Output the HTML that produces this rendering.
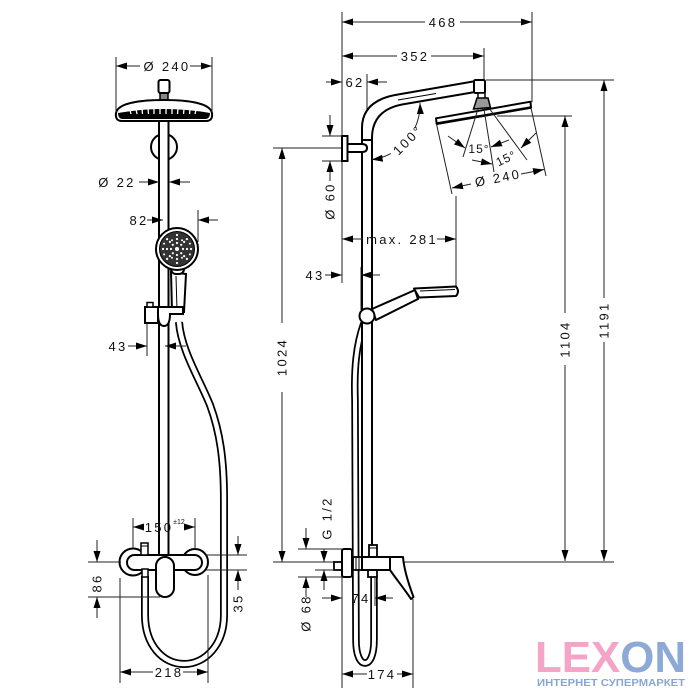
<!DOCTYPE html>
<html><head><meta charset="utf-8"><style>
html,body{margin:0;padding:0;background:#fff;}
svg{display:block;}
text{font-family:"Liberation Sans",sans-serif;}
</style></head><body>
<svg width="700" height="700" viewBox="0 0 700 700" xmlns="http://www.w3.org/2000/svg">
<defs>
<marker id="a" markerWidth="12" markerHeight="8" refX="11" refY="4" orient="auto" markerUnits="userSpaceOnUse"><path d="M0,0.5 L11,4 L0,7.5 Z" fill="#000"/></marker>
</defs>
<rect width="700" height="700" fill="#fff"/>

<!-- ================= LEFT VIEW ================= -->
<!-- hose -->
<g fill="none" stroke-linecap="butt">
<path d="M179,322 C181,350 200,380 210,405 C220,432 224,460 224,500 L224,615 C224,645 205,664 184,664 C163,664 145,645 145,615 L145,576" stroke="#000" stroke-width="8"/>
<path d="M179,322 C181,350 200,380 210,405 C220,432 224,460 224,500 L224,615 C224,645 205,664 184,664 C163,664 145,645 145,615 L145,576" stroke="#fff" stroke-width="4.5"/>
</g>
<!-- bracket circle -->
<circle cx="164" cy="147" r="13" fill="#fff" stroke="#000" stroke-width="2"/>
<!-- rod -->
<rect x="159" y="119" width="9.5" height="438" fill="#fff" stroke="#000" stroke-width="2"/>
<!-- head connector -->
<rect x="160" y="92" width="8" height="9" fill="#888" stroke="#000" stroke-width="1.5"/>
<rect x="158.5" y="80" width="11" height="13" rx="2" fill="#fff" stroke="#000" stroke-width="2"/>
<!-- head -->
<path d="M116,113 C118,103 140,100 164,100 C188,100 210,103 212,113 Q213,121 206,121 L122,121 Q115,121 116,113 Z" fill="#fff" stroke="#000" stroke-width="2"/>
<path d="M118,113 Q164,105 210,113 Q210,119 205,119 L123,119 Q118,119 118,113 Z" fill="#000"/>
<g stroke="#fff" stroke-width="1.3">
<line x1="130" y1="110" x2="131" y2="114"/><line x1="136" y1="109" x2="137" y2="114"/><line x1="142" y1="109" x2="142.5" y2="114"/><line x1="148" y1="108" x2="148.5" y2="114"/><line x1="154" y1="108" x2="154" y2="114"/><line x1="160" y1="108" x2="160" y2="114"/><line x1="166" y1="108" x2="166" y2="114"/><line x1="172" y1="108" x2="172" y2="114"/><line x1="178" y1="108" x2="177.5" y2="114"/><line x1="184" y1="109" x2="183.5" y2="114"/><line x1="190" y1="109" x2="189.5" y2="114"/><line x1="196" y1="110" x2="195" y2="114"/>
</g>
<!-- hand shower -->
<path d="M171,272 L172,312 L184,312 L186,274 Z" fill="#fff" stroke="#000" stroke-width="2"/>
<line x1="176" y1="276" x2="177" y2="310" stroke="#000" stroke-width="1"/>
<rect x="171" y="262" width="13" height="12" rx="5" fill="#fff" stroke="#000" stroke-width="2"/>
<circle cx="177" cy="249" r="21" fill="#fff" stroke="#000" stroke-width="2"/>
<circle cx="177" cy="249" r="17.5" fill="#333" stroke="#000" stroke-width="1"/>
<g fill="#fff">
<circle cx="177" cy="249" r="2"/>
<circle cx="183" cy="249" r="1.1"/><circle cx="171" cy="249" r="1.1"/><circle cx="177" cy="243" r="1.1"/><circle cx="177" cy="255" r="1.1"/><circle cx="181.2" cy="244.8" r="1.1"/><circle cx="172.8" cy="244.8" r="1.1"/><circle cx="181.2" cy="253.2" r="1.1"/><circle cx="172.8" cy="253.2" r="1.1"/>
<circle cx="187" cy="249" r="1.1"/><circle cx="167" cy="249" r="1.1"/><circle cx="177" cy="239" r="1.1"/><circle cx="177" cy="259" r="1.1"/><circle cx="184.1" cy="241.9" r="1.1"/><circle cx="169.9" cy="241.9" r="1.1"/><circle cx="184.1" cy="256.1" r="1.1"/><circle cx="169.9" cy="256.1" r="1.1"/><circle cx="182" cy="240.3" r="1"/><circle cx="172" cy="240.3" r="1"/><circle cx="182" cy="257.7" r="1"/><circle cx="172" cy="257.7" r="1"/>
<circle cx="191" cy="249" r="1.1"/><circle cx="163" cy="249" r="1.1"/><circle cx="177" cy="235" r="1.1"/><circle cx="177" cy="263" r="1.1"/><circle cx="186.9" cy="239.1" r="1.1"/><circle cx="167.1" cy="239.1" r="1.1"/><circle cx="186.9" cy="258.9" r="1.1"/><circle cx="167.1" cy="258.9" r="1.1"/><circle cx="189.9" cy="243.6" r="1"/><circle cx="164.1" cy="243.6" r="1"/><circle cx="189.9" cy="254.4" r="1"/><circle cx="164.1" cy="254.4" r="1"/>
</g>
<!-- holder -->
<rect x="145" y="307" width="13" height="16" fill="#fff" stroke="#000" stroke-width="2"/>
<rect x="147" y="302.5" width="6" height="4.5" fill="#fff" stroke="#000" stroke-width="1.5"/>
<path d="M158,307 L183,307 L183,314 L170,314 Q170,326 164,326 Q158,326 158,314 Z" fill="#fff" stroke="#000" stroke-width="2"/>

<!-- mixer left -->
<circle cx="133" cy="562" r="13.5" fill="#fff" stroke="#000" stroke-width="2"/>
<circle cx="195" cy="562" r="13" fill="#fff" stroke="#000" stroke-width="2"/>
<rect x="127" y="555" width="75" height="15" rx="7.5" fill="#fff" stroke="#000" stroke-width="2"/>
<rect x="142" y="569" width="6" height="8" fill="#fff" stroke="#000" stroke-width="1.5"/>
<rect x="141" y="543" width="7" height="12" fill="#fff" stroke="#000" stroke-width="1.5"/>
<line x1="141" y1="546" x2="148" y2="546" stroke="#000" stroke-width="1"/>
<rect x="156" y="557" width="18" height="40" rx="9" fill="#fff" stroke="#000" stroke-width="2"/>

<!-- left dims -->
<g stroke="#222" stroke-width="1" fill="none">
<line x1="116" y1="57" x2="116" y2="112"/>
<line x1="212" y1="57" x2="212" y2="112"/>
<line x1="140" y1="66" x2="116" y2="66" marker-end="url(#a)"/>
<line x1="190" y1="66" x2="212" y2="66" marker-end="url(#a)"/>
<line x1="139" y1="182" x2="159" y2="182" marker-end="url(#a)"/>
<line x1="190" y1="182" x2="169" y2="182" marker-end="url(#a)"/>
<line x1="147" y1="220" x2="163" y2="220" marker-end="url(#a)"/>
<line x1="218" y1="220" x2="198" y2="220" marker-end="url(#a)"/>
<line x1="198" y1="210" x2="198" y2="242"/>
<line x1="128" y1="346" x2="147" y2="346" marker-end="url(#a)"/>
<line x1="147" y1="323" x2="147" y2="356"/>
<line x1="186" y1="346" x2="165" y2="346" marker-end="url(#a)"/>
<line x1="133" y1="518" x2="133" y2="549"/>
<line x1="195" y1="518" x2="195" y2="549"/>
<line x1="144" y1="527" x2="133" y2="527" marker-end="url(#a)"/>
<line x1="185" y1="527" x2="195" y2="527" marker-end="url(#a)"/>
<line x1="97" y1="540" x2="97" y2="562" marker-end="url(#a)"/>
<line x1="97" y1="618" x2="97" y2="597" marker-end="url(#a)"/>
<line x1="88" y1="562" x2="121" y2="562"/>
<line x1="88" y1="597" x2="160" y2="597"/>
<line x1="238" y1="536" x2="238" y2="555" marker-end="url(#a)"/>
<line x1="238" y1="590" x2="238" y2="570" marker-end="url(#a)"/>
<line x1="206" y1="555" x2="247" y2="555"/>
<line x1="206" y1="570" x2="247" y2="570"/>
<line x1="120" y1="578" x2="120" y2="683"/>
<line x1="208" y1="575" x2="208" y2="683"/>
<line x1="153" y1="672" x2="120" y2="672" marker-end="url(#a)"/>
<line x1="183" y1="672" x2="208" y2="672" marker-end="url(#a)"/>
</g>
<g font-size="13" fill="#111" text-anchor="middle" style="letter-spacing:2.3px">
<text x="167" y="71">Ø 240</text>
<text x="117" y="187">Ø 22</text>
<text x="139" y="225">82</text>
<text x="118" y="351">43</text>
<text x="159" y="532">150</text>
<text x="169" y="677">218</text>
<text transform="translate(97,583) rotate(-90)" x="0" y="4.5">86</text>
<text transform="translate(238,603) rotate(-90)" x="0" y="4.5">35</text>
</g>
<text x="179" y="524" font-size="7" fill="#111" text-anchor="middle">±12</text>

<!-- ================= RIGHT VIEW ================= -->
<!-- base ext lines -->
<g stroke="#222" stroke-width="1" fill="none">
<line x1="342" y1="12" x2="342" y2="283"/>
<line x1="532" y1="12" x2="532" y2="102"/>
<line x1="484" y1="48" x2="484" y2="81"/>
<line x1="486" y1="80" x2="614" y2="80"/>
<line x1="497" y1="116" x2="572" y2="116"/>
<line x1="273" y1="562" x2="614" y2="562"/>
<line x1="273" y1="148" x2="342" y2="148"/>
<line x1="367" y1="74" x2="367" y2="110"/>
<line x1="456" y1="196" x2="456" y2="291"/>
<line x1="361" y1="267" x2="361" y2="310"/>
</g>
<!-- hose right -->
<g fill="none">
<path d="M364,323 C356,345 354,370 355,400 L356,640 C356,655 360,663 365,663 C370,663 374,655 374,640 L374,577" stroke="#000" stroke-width="7.5"/>
<path d="M364,323 C356,345 354,370 355,400 L356,640 C356,655 360,663 365,663 C370,663 374,655 374,640 L374,577" stroke="#fff" stroke-width="4"/>
</g>
<!-- rod right -->
<rect x="362" y="128" width="10" height="430" fill="#fff" stroke="#000" stroke-width="2"/>
<!-- arm -->
<path d="M362,140 L362,128 C362,108 376,98 398,94.5 L476,81 L478,91.5 L402,104.5 C384,108 372,118 372,138 L372,140 Z" fill="#fff" stroke="#000" stroke-width="2" stroke-linejoin="round"/>
<line x1="398" y1="100" x2="436" y2="93.5" stroke="#000" stroke-width="1"/>
<rect x="474" y="80" width="11" height="13" rx="1.5" fill="#fff" stroke="#000" stroke-width="2"/>
<rect x="478" y="93" width="7" height="6" fill="#fff" stroke="#000" stroke-width="1.5"/>
<path d="M477,98 L488,98 L490.5,107.5 L473.5,109 Z" fill="#999" stroke="#000" stroke-width="1.5"/>
<!-- head plate -->
<path d="M436,118.3 L530.5,101.7 L531,107.7 L436.7,124 Z" fill="#fff" stroke="#000" stroke-width="2" stroke-linejoin="round"/>
<line x1="437" y1="123.5" x2="531" y2="107.5" stroke="#000" stroke-width="2.5"/>
<!-- wall pipe -->
<path d="M347,144 L362,144 Q367,144 367,148 Q367,152 362,152 L347,152 Z" fill="#fff" stroke="#000" stroke-width="2"/>
<rect x="342" y="136" width="5.5" height="25" fill="#fff" stroke="#000" stroke-width="2"/>
<!-- hand shower right -->
<path d="M372,309 L415,290 L418,299 L376,320 Z" fill="#fff" stroke="#000" stroke-width="2" stroke-linejoin="round"/>
<path d="M414,288.5 L456,286.5 Q460,291.5 456,296 L419,297.5 Z" fill="#fff" stroke="#000" stroke-width="2" stroke-linejoin="round"/>
<line x1="420" y1="291" x2="455" y2="289.5" stroke="#000" stroke-width="1"/>
<circle cx="367" cy="316" r="7.5" fill="#fff" stroke="#000" stroke-width="2"/>
<!-- mixer right -->
<rect x="334" y="562" width="8" height="8" fill="#fff" stroke="#000" stroke-width="1.8"/>
<rect x="342" y="549" width="10" height="28" rx="2" fill="#fff" stroke="#000" stroke-width="2"/>
<rect x="353" y="557" width="9" height="13" fill="#fff" stroke="#000" stroke-width="1.8"/>
<g stroke="#000" stroke-width="1"><line x1="356" y1="557" x2="356" y2="570"/><line x1="359" y1="557" x2="359" y2="570"/></g>
<rect x="369" y="545" width="8" height="12" fill="#fff" stroke="#000" stroke-width="1.8"/>
<line x1="369" y1="548" x2="377" y2="548" stroke="#000" stroke-width="1"/>
<rect x="368" y="569" width="9" height="8" fill="#fff" stroke="#000" stroke-width="1.8"/>
<path d="M390,557 L403,557 C404,570 409,585 413.5,597 L411,599 C405,590 397,580 390,570 Z" fill="#fff" stroke="#000" stroke-width="2" stroke-linejoin="round"/>
<rect x="362" y="557" width="28" height="13" fill="#fff" stroke="#000" stroke-width="2"/>

<!-- right dims -->
<g stroke="#222" stroke-width="1" fill="none">
<line x1="425" y1="22" x2="342" y2="22" marker-end="url(#a)"/>
<line x1="460" y1="22" x2="532" y2="22" marker-end="url(#a)"/>
<line x1="397" y1="56" x2="342" y2="56" marker-end="url(#a)"/>
<line x1="431" y1="56" x2="484" y2="56" marker-end="url(#a)"/>
<line x1="326" y1="82" x2="342" y2="82" marker-end="url(#a)"/>
<line x1="387" y1="82" x2="367" y2="82" marker-end="url(#a)"/>
<line x1="330" y1="115" x2="330" y2="136" marker-end="url(#a)"/>
<line x1="330" y1="181" x2="330" y2="161" marker-end="url(#a)"/>
<line x1="322" y1="136" x2="342" y2="136"/>
<line x1="322" y1="161" x2="342" y2="161"/>
<line x1="282" y1="323" x2="282" y2="148" marker-end="url(#a)"/>
<line x1="282" y1="392" x2="282" y2="562" marker-end="url(#a)"/>
<line x1="363" y1="239" x2="342" y2="239" marker-end="url(#a)"/>
<line x1="437" y1="239" x2="456" y2="239" marker-end="url(#a)"/>
<line x1="325" y1="275" x2="342" y2="275" marker-end="url(#a)"/>
<line x1="380" y1="275" x2="361" y2="275" marker-end="url(#a)"/>
<line x1="565" y1="313" x2="565" y2="116" marker-end="url(#a)"/>
<line x1="565" y1="365" x2="565" y2="561" marker-end="url(#a)"/>
<line x1="604" y1="298" x2="604" y2="80" marker-end="url(#a)"/>
<line x1="604" y1="342" x2="604" y2="561" marker-end="url(#a)"/>
<line x1="306" y1="528" x2="306" y2="549" marker-end="url(#a)"/>
<line x1="306" y1="597" x2="306" y2="577" marker-end="url(#a)"/>
<line x1="298" y1="549" x2="342" y2="549"/>
<line x1="298" y1="577" x2="342" y2="577"/>
<line x1="324" y1="549" x2="324" y2="562" marker-end="url(#a)"/>
<line x1="324" y1="590" x2="324" y2="570" marker-end="url(#a)"/>
<line x1="315" y1="570" x2="334" y2="570"/>
<line x1="322" y1="598" x2="342" y2="598" marker-end="url(#a)"/>
<line x1="393" y1="598" x2="375" y2="598" marker-end="url(#a)"/>
<line x1="375" y1="577" x2="375" y2="606"/>
<line x1="342" y1="577" x2="342" y2="688"/>
<line x1="413" y1="599" x2="413" y2="688"/>
<line x1="367" y1="674" x2="342" y2="674" marker-end="url(#a)"/>
<line x1="397" y1="674" x2="413" y2="674" marker-end="url(#a)"/>
<!-- head angle lines -->
<line x1="478" y1="109" x2="463" y2="157"/>
<line x1="484" y1="109" x2="494" y2="172"/>
<line x1="489" y1="108" x2="527" y2="160"/>
<line x1="436.5" y1="124" x2="452" y2="194"/>
<line x1="531" y1="108" x2="546" y2="176"/>
<line x1="448" y1="136" x2="465" y2="148" marker-end="url(#a)"/>
<line x1="509" y1="140" x2="491" y2="147" marker-end="url(#a)"/>
<line x1="536" y1="133" x2="521" y2="148" marker-end="url(#a)"/>
<line x1="472" y1="160" x2="492" y2="164" marker-end="url(#a)"/>
<line x1="471" y1="184" x2="452" y2="188" marker-end="url(#a)"/>
<line x1="521" y1="174" x2="544" y2="169.5" marker-end="url(#a)"/>
<!-- 100° arc -->
<path d="M414.8,128.2 A55,55 0 0 0 420,103" marker-end="url(#a)"/>
<path d="M390.8,153.6 A55,55 0 0 1 371.7,159.6" marker-end="url(#a)"/>
</g>
<g font-size="13" fill="#111" text-anchor="middle" style="letter-spacing:2.3px">
<text x="443" y="27">468</text>
<text x="415" y="61">352</text>
<text x="355" y="87">62</text>
<text x="402" y="244">max. 281</text>
<text x="315" y="280">43</text>
<text x="361" y="603">74</text>
<text x="382" y="679">174</text>
<text transform="translate(330,201) rotate(-90)" x="0" y="4.5">Ø 60</text>
<text transform="translate(282,357) rotate(-90)" x="0" y="4.5">1024</text>
<text transform="translate(565,339) rotate(-90)" x="0" y="4.5">1104</text>
<text transform="translate(604,320) rotate(-90)" x="0" y="4.5">1191</text>
<text transform="translate(327,518) rotate(-90)" x="0" y="4.5">G 1/2</text>
<text transform="translate(306,613) rotate(-90)" x="0" y="4.5">Ø 68</text>
<text transform="translate(408,140) rotate(-45)" x="0" y="4.5">100°</text>
<text transform="translate(498,178) rotate(-11)" x="0" y="4.5">Ø 240</text>
</g>
<g font-size="12" fill="#111" text-anchor="middle" style="letter-spacing:1px">
<text x="479" y="153">15°</text>
<text transform="translate(506,158) rotate(-25)" x="0" y="4.5">15°</text>
</g>

<!-- ================= LOGO ================= -->
<text x="535" y="672" font-size="44" font-weight="bold" textLength="151" lengthAdjust="spacingAndGlyphs"><tspan fill="#f4a4c6">LEX</tspan><tspan fill="#8daad6">ON</tspan></text>
<text x="537" y="686" font-size="10.5" font-weight="bold" fill="#8aa6d2" textLength="148" lengthAdjust="spacingAndGlyphs">ИНТЕРНЕТ СУПЕРМАРКЕТ</text>
</svg>
</body></html>
